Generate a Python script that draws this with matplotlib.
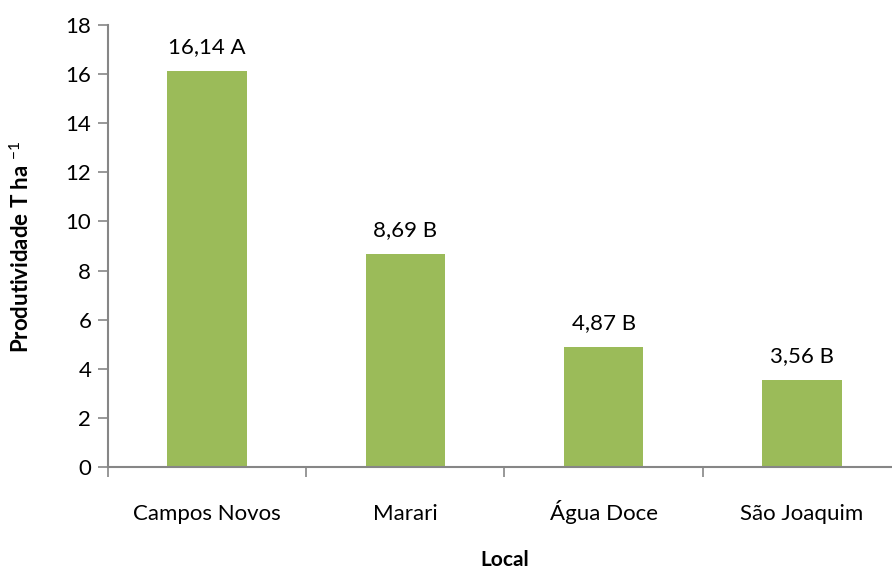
import matplotlib
matplotlib.use("Agg")
import matplotlib.pyplot as plt
import numpy as np

locais = ["Campos Novos", "Marari", "Água Doce", "São Joaquim"]
produtividade = [16.14, 8.69, 4.87, 3.56]
letras = ["A", "B", "B", "B"]

plt.rcParams['font.family'] = ['Lato', 'DejaVu Sans']
plt.rcParams['mathtext.fontset'] = 'custom'
plt.rcParams['mathtext.bf'] = 'Lato:bold'
plt.rcParams['mathtext.rm'] = 'Lato'

cinza = '#868686'
verde = '#9BBB59'

fig = plt.figure(figsize=(8.92, 5.72), dpi=100)
ax = fig.add_axes([108 / 892, 105 / 572, 793 / 892, 442 / 572])

x = np.arange(len(locais))
ax.bar(x, produtividade, width=0.40, color=verde, zorder=2)

for xi, v, l in zip(x, produtividade, letras):
    rotulo = f"{v:.2f}".replace(".", ",") + " " + l
    ax.annotate(rotulo, (xi, v), xytext=(0, 10), textcoords='offset points',
                ha='center', va='bottom', fontsize=16)

ax.set_xlim(-0.5, len(locais) - 0.5)
ax.set_ylim(0, 18)
ax.set_yticks(np.arange(0, 19, 2))
ax.set_xticks(x)
ax.set_xticklabels(locais, fontsize=16)
for t in ax.get_xticklabels():
    t.set_verticalalignment('baseline')
ax.set_xticks(np.arange(-0.5, len(locais), 1), minor=True)
ax.tick_params(axis='x', which='major', length=0, pad=38)
ax.tick_params(axis='x', which='minor', length=7, color=cinza, width=1.2, direction='out')
ax.tick_params(axis='y', length=7, color=cinza, width=1.2, labelsize=16, pad=5)

for s in ['top', 'right']:
    ax.spines[s].set_visible(False)
for s in ['left', 'bottom']:
    ax.spines[s].set_color(cinza)
    ax.spines[s].set_linewidth(1.5)

fig.text(21 / 892, 1 - 247 / 572, r'Produtividade T ha $^{-1}$', rotation=90,
         ha='center', va='center', fontsize=16, fontweight='bold')
fig.text(505 / 892, 1 - 560 / 572, 'Local', ha='center', va='center', fontsize=15, fontweight='bold')

fig.savefig('out.png', dpi=100)
